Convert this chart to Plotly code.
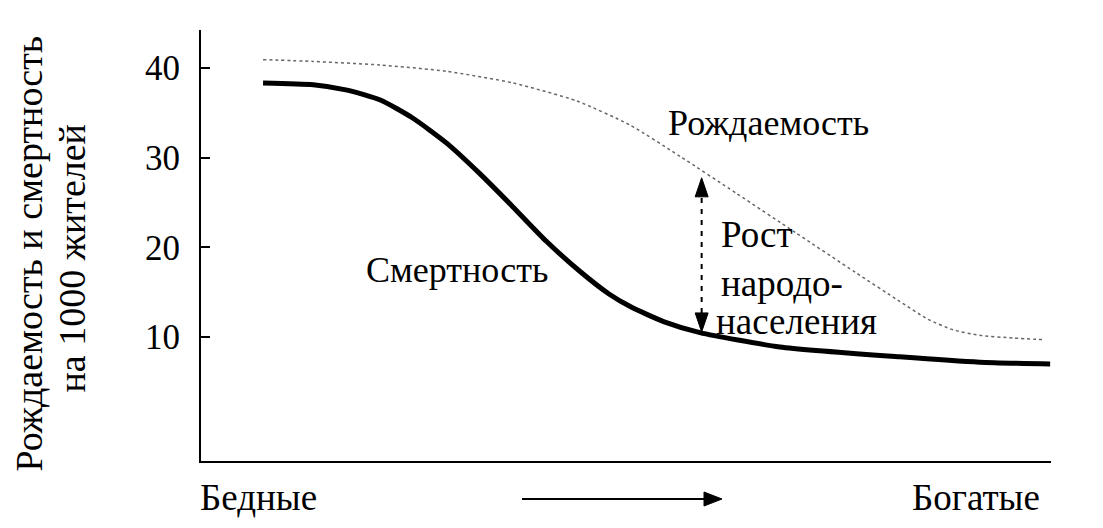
import plotly.graph_objects as go

# ---- data ----
wealth_birth = [7.3, 13.2, 21.1, 28.9, 36.7, 44.2, 50.5, 56.4, 63.0, 70.0, 77.0, 82.0, 85.5, 88.5, 91.6, 95.5, 99.3]
birth_rate   = [40.9, 40.7, 40.3, 39.6, 38.3, 36.3, 33.6, 30.1, 26.0, 21.6, 17.2, 14.1, 12.0, 10.8, 10.2, 9.9, 9.7]

wealth_death = [7.3, 13.2, 17.2, 21.1, 24.9, 28.9, 32.8, 36.7, 40.6, 44.6, 48.0, 50.5, 54.5, 58.7, 68.1, 82.2, 91.6, 99.9]
death_rate   = [38.3, 38.1, 37.5, 36.4, 34.4, 31.6, 28.2, 24.5, 20.7, 17.3, 14.8, 13.4, 11.7, 10.5, 8.9, 7.8, 7.2, 7.0]

y_ticks = [10, 20, 30, 40]
y_title = ["Рождаемость и смертность", "на 1000 жителей"]
x_labels = ["Бедные", "Богатые"]
label_birth = "Рождаемость"
label_death = "Смертность"
label_growth = ["Рост", "народо-", "населения"]

FONT = "Liberation Serif"
X_RANGE = [0, 100]
Y_RANGE = [-3.8, 44.2]
PW, PH = 850, 431  # plot area pixels
px_x = (X_RANGE[1] - X_RANGE[0]) / PW
OFF = 8  # page body margin in the browser


def f(size):
    return dict(family=FONT, size=size, color="black")


fig = go.Figure()
fig.add_trace(go.Scatter(x=wealth_birth, y=birth_rate, mode="lines",
                         line=dict(color="#666666", width=1.5, dash="dot", shape="spline", smoothing=0.6),
                         hoverinfo="skip", showlegend=False))
fig.add_trace(go.Scatter(x=wealth_death, y=death_rate, mode="lines",
                         line=dict(color="black", width=5, shape="spline", smoothing=0.6),
                         hoverinfo="skip", showlegend=False))

shapes = []
# vertical double arrow (population growth)
ax_x = 58.9
top_tip, top_base, bot_base, bot_tip = 27.74, 25.62, 12.69, 10.57
hw = 6.5 * px_x
shapes.append(dict(type="line", xref="x", yref="y", x0=ax_x, x1=ax_x, y0=bot_base, y1=top_base,
                   line=dict(color="black", width=2, dash="5px,6px")))
shapes.append(dict(type="path", xref="x", yref="y",
                   path=f"M {ax_x-hw},{top_base} L {ax_x+hw},{top_base} L {ax_x},{top_tip} Z",
                   fillcolor="black", line=dict(color="black", width=1)))
shapes.append(dict(type="path", xref="x", yref="y",
                   path=f"M {ax_x-hw},{bot_base} L {ax_x+hw},{bot_base} L {ax_x},{bot_tip} Z",
                   fillcolor="black", line=dict(color="black", width=1)))
# horizontal arrow below the axis
ya = -38 / PH
hh = 7 / PH
x_start, x_base, x_tip = (522 - 201) / PW, (704 - 201) / PW, (722 - 201) / PW
shapes.append(dict(type="line", xref="paper", yref="paper", x0=x_start, x1=x_base, y0=ya, y1=ya,
                   line=dict(color="black", width=2)))
shapes.append(dict(type="path", xref="paper", yref="paper",
                   path=f"M {x_base},{ya-hh} L {x_base},{ya+hh} L {x_tip},{ya} Z",
                   fillcolor="black", line=dict(color="black", width=1)))

annotations = [
    dict(text=label_birth, x=66.8, y=33.8, xref="x", yref="y", showarrow=False,
         xanchor="center", yanchor="middle", font=f(36)),
    dict(text=label_death, x=30.1, y=17.5, xref="x", yref="y", showarrow=False,
         xanchor="center", yanchor="middle", font=f(36)),
    dict(text=label_growth[0], x=60.9, y=21.4, xref="x", yref="y", showarrow=False,
         xanchor="left", yanchor="middle", font=f(37)),
    dict(text=label_growth[1], x=60.9, y=16.0, xref="x", yref="y", showarrow=False,
         xanchor="left", yanchor="middle", font=f(37)),
    dict(text=label_growth[2], x=60.3, y=11.7, xref="x", yref="y", showarrow=False,
         xanchor="left", yanchor="middle", font=f(37)),
    dict(text=x_labels[0], x=(258 - 201) / PW, y=(461 - 497) / PH, xref="paper", yref="paper",
         showarrow=False, xanchor="center", yanchor="middle", font=f(37)),
    dict(text=x_labels[1], x=(976 - 201) / PW, y=(461 - 497) / PH, xref="paper", yref="paper",
         showarrow=False, xanchor="center", yanchor="middle", font=f(37)),
    dict(text=y_title[0], x=(28.5 - 201) / PW, y=(461 - 254) / PH, xref="paper", yref="paper",
         showarrow=False, textangle=-90, xanchor="center", yanchor="middle", font=f(38), borderpad=0),
    dict(text=y_title[1], x=(71.5 - 201) / PW, y=(461 - 259) / PH, xref="paper", yref="paper",
         showarrow=False, textangle=-90, xanchor="center", yanchor="middle", font=f(38), borderpad=0),
]

fig.update_layout(
    width=1103, height=528,
    margin=dict(l=201 - OFF, r=1103 - 1051 + OFF, t=30 - OFF, b=528 - 461 + OFF, pad=0),
    paper_bgcolor="white", plot_bgcolor="white",
    font=f(35),
    shapes=shapes, annotations=annotations,
    xaxis=dict(range=X_RANGE, showgrid=False, zeroline=False, showline=True, linecolor="black",
               linewidth=2, showticklabels=False, ticks="", fixedrange=True),
    yaxis=dict(range=Y_RANGE, showgrid=False, zeroline=False, showline=True, linecolor="black",
               linewidth=2, tickmode="array", tickvals=y_ticks, ticktext=[str(v) for v in y_ticks],
               ticks="inside", ticklen=9, tickwidth=2, tickcolor="black",
               ticklabelstandoff=12, tickfont=f(35), fixedrange=True),
)

fig.write_html("out.html")
